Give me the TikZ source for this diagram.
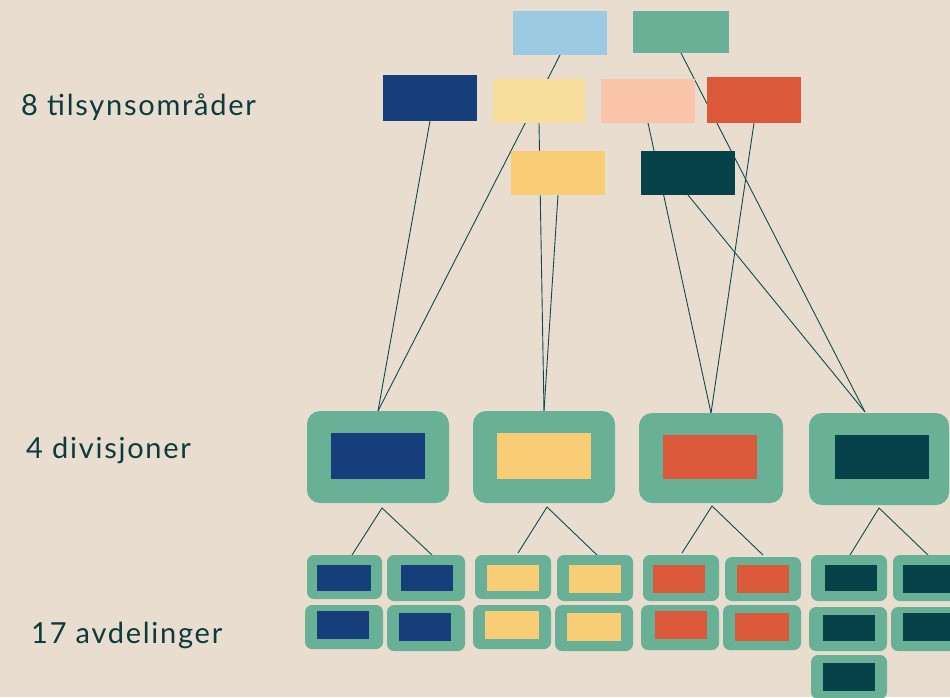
\documentclass[tikz,border=0pt]{standalone}
\usepackage{fontspec}
\setmainfont{Lato}
\newfontfamily\lblfont[LetterSpace=6]{Lato}
\usetikzlibrary{calc}
\definecolor{bgc}{HTML}{E9DDD0}
\definecolor{lblue}{HTML}{9DCAE3}
\definecolor{grn}{HTML}{68B196}
\definecolor{dblue}{HTML}{163E7A}
\definecolor{lyel}{HTML}{F7DE9D}
\definecolor{peach}{HTML}{F9C4AA}
\definecolor{red1}{HTML}{DB583B}
\definecolor{yel}{HTML}{F8CD76}
\definecolor{dteal}{HTML}{07424A}
\definecolor{txt}{HTML}{0D3A3C}
\definecolor{lnc}{HTML}{0F4A4E}
\pgfdeclarelayer{bg}
\pgfdeclarelayer{edges}
\pgfsetlayers{bg,edges,main}
\newcommand\rbox[6]{\node[#6, anchor=north west, minimum width={#4-#2}, minimum height={#5-#3}] (#1) at (#2,#3) {};}
\tikzset{
  plain/.style={inner sep=0pt, outer sep=0pt, draw=none},
  divbox/.style={plain, fill=grn, rounded corners=13pt},
  depbox/.style={plain, fill=grn, rounded corners=7pt},
  conn/.style={draw=lnc, line width=0.9pt},
  lbl/.style={inner sep=0pt, anchor=base west, text=txt, font=\lblfont\fontsize{29}{34}\selectfont}
}
\begin{document}
\begin{tikzpicture}[x=1pt,y=-1pt]
\begin{pgfonlayer}{bg}
\fill[bgc] (0,0) rectangle (950,697);
\end{pgfonlayer}
\useasboundingbox (0,0) rectangle (950,697);
% labels
\node[lbl] (l1) at (21,115) {8 tilsynsområder};
\node[lbl] (l2) at (26,458) {4 divisjoner};
\node[lbl] (l3) at (31,643) {17 avdelinger};
% top boxes
\rbox{lb}{513}{11}{607}{55}{plain, fill=lblue}
\rbox{gr}{633}{11}{729}{53}{plain, fill=grn}
\rbox{db}{383}{75}{477}{121}{plain, fill=dblue}
\rbox{ly}{493}{79}{585}{123}{plain, fill=lyel}
\rbox{pe}{601}{79}{695}{123}{plain, fill=peach}
\rbox{rd}{707}{77}{801}{123}{plain, fill=red1}
\rbox{ym}{511}{151}{605}{195}{plain, fill=yel}
\rbox{dt}{641}{151}{735}{195}{plain, fill=dteal}
% divisions
\rbox{dv1}{307}{411}{449}{503}{divbox}
\rbox{dv1i}{331}{433}{425}{479}{plain, fill=dblue}
\rbox{dv2}{473}{411}{615}{503}{divbox}
\rbox{dv2i}{497}{433}{591}{479}{plain, fill=yel}
\rbox{dv3}{639}{413}{783}{503}{divbox}
\rbox{dv3i}{663}{435}{757}{479}{plain, fill=red1}
\rbox{dv4}{809}{413}{949}{505}{divbox}
\rbox{dv4i}{835}{435}{929}{479}{plain, fill=dteal}
\coordinate (dv4top) at (865,412);
% departments division 1
\rbox{a1}{307}{555}{382}{599}{depbox}\rbox{a1i}{317}{565}{371}{591}{plain, fill=dblue}
\rbox{b1}{387}{555}{465}{601}{depbox}\rbox{b1i}{401}{565}{453}{591}{plain, fill=dblue}
\rbox{c1}{305}{605}{383}{649}{depbox}\rbox{c1i}{317}{611}{369}{639}{plain, fill=dblue}
\rbox{e1}{387}{605}{465}{651}{depbox}\rbox{e1i}{399}{613}{451}{641}{plain, fill=dblue}
% division 2
\rbox{a2}{475}{555}{551}{599}{depbox}\rbox{a2i}{487}{565}{539}{591}{plain, fill=yel}
\rbox{b2}{557}{555}{633}{601}{depbox}\rbox{b2i}{569}{565}{621}{593}{plain, fill=yel}
\rbox{c2}{473}{605}{551}{649}{depbox}\rbox{c2i}{485}{611}{539}{639}{plain, fill=yel}
\rbox{e2}{555}{605}{633}{651}{depbox}\rbox{e2i}{567}{613}{621}{641}{plain, fill=yel}
% division 3
\rbox{a3}{643}{555}{719}{601}{depbox}\rbox{a3i}{653}{565}{705}{593}{plain, fill=red1}
\rbox{b3}{725}{557}{801}{601}{depbox}\rbox{b3i}{737}{565}{789}{593}{plain, fill=red1}
\rbox{c3}{641}{605}{719}{650}{depbox}\rbox{c3i}{655}{611}{707}{639}{plain, fill=red1}
\rbox{e3}{723}{605}{801}{650}{depbox}\rbox{e3i}{735}{613}{789}{641}{plain, fill=red1}
% division 4
\rbox{a4}{811}{555}{887}{601}{depbox}\rbox{a4i}{825}{565}{877}{591}{plain, fill=dteal}
\rbox{b4}{893}{555}{969}{601}{depbox}\rbox{b4i}{903}{565}{955}{593}{plain, fill=dteal}
\rbox{c4}{809}{607}{887}{651}{depbox}\rbox{c4i}{823}{615}{875}{641}{plain, fill=dteal}
\rbox{e4}{891}{607}{969}{651}{depbox}\rbox{e4i}{903}{613}{955}{641}{plain, fill=dteal}
\rbox{f4}{811}{655}{887}{699}{depbox}\rbox{f4i}{823}{663}{875}{691}{plain, fill=dteal}
% apex coordinates
\coordinate (p1) at (382,508);
\coordinate (p2) at (547,507);
\coordinate (p3) at (712,506);
\coordinate (p4) at (879,508);
\coordinate (a1t) at (352,555); \coordinate (b1t) at (432,555);
\coordinate (a2t) at (518,553); \coordinate (b2t) at (597,555);
\coordinate (a3t) at (682,553); \coordinate (b3t) at (763,555);
\coordinate (a4t) at (850,555); \coordinate (b4t) at (928,555);
\begin{pgfonlayer}{edges}
\draw[conn] (lb.south) -- (dv1.north);
\draw[conn] (db.south) -- (dv1.north);
\draw[conn] (ly.south) -- (dv2.north);
\draw[conn] (ym.south) -- (dv2.north);
\draw[conn] (pe.south) -- (dv3.north);
\draw[conn] (rd.south) -- (dv3.north);
\draw[conn] (gr.south) -- (dv4top);
\draw[conn] (dt.south) -- (dv4top);
\draw[conn] (a1t) -- (p1) -- (b1t);
\draw[conn] (a2t) -- (p2) -- (b2t);
\draw[conn] (a3t) -- (p3) -- (b3t);
\draw[conn] (a4t) -- (p4) -- (b4t);
\end{pgfonlayer}
\end{tikzpicture}
\end{document}
